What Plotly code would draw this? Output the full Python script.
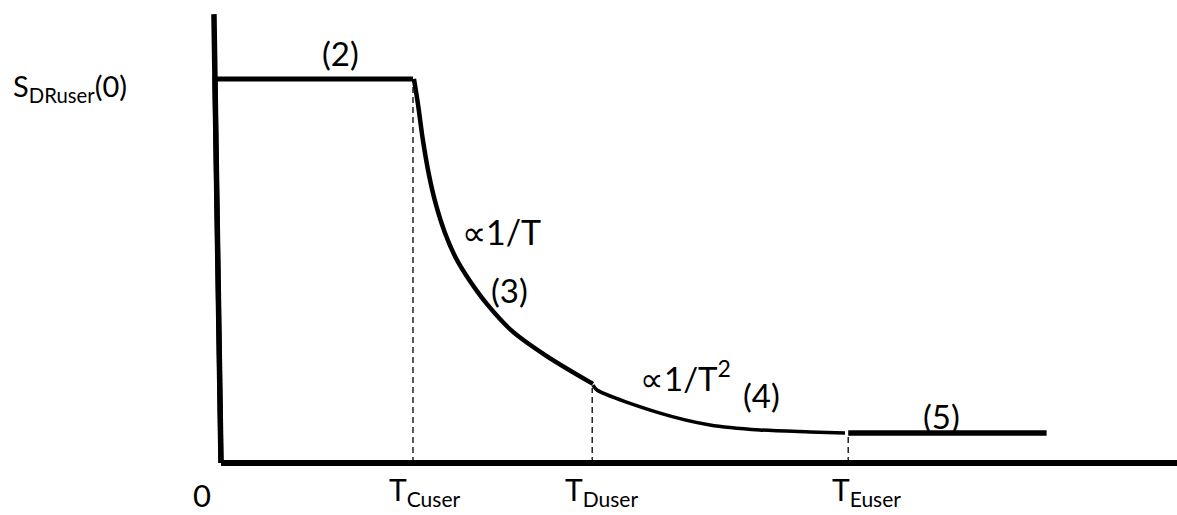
import plotly.graph_objects as go

# Design response spectrum (schematic), period T in s, normalised spectral value
# Corner periods
T_C = 0.60
T_D = 1.16
T_E = 1.96
T_END = 2.58

S_PLATEAU = 1.0
S_FLOOR = 0.078

# (1) rise to the plateau and (2) constant plateau
rise_T = [0.0, -0.019, T_C]
rise_S = [0.0, S_PLATEAU, S_PLATEAU]

# (3) branch proportional to 1/T
seg3_T = [0.603, 0.616, 0.631, 0.650, 0.672, 0.700, 0.734, 0.778, 0.834, 0.909, 1.013, 1.1625]
seg3_S = [1.000, 0.932, 0.841, 0.750, 0.672, 0.599, 0.534, 0.474, 0.411, 0.344, 0.281, 0.206]

# (4) branch proportional to 1/T^2
seg4_T = [1.1625, 1.175, 1.372, 1.528, 1.684, 1.841, 1.95]
seg4_S = [0.203, 0.190, 0.130, 0.099, 0.086, 0.081, 0.078]

# (5) constant tail
seg5_T = [T_E, T_END]
seg5_S = [S_FLOOR, S_FLOOR]

# Vertical guides at the corner periods (top of each guide)
guide_T = [T_C, T_D, T_E]
guide_S = [S_PLATEAU, 0.195, S_FLOOR]

# Axis geometry
AXIS_TOP = (-0.022, 1.169)
AXIS_RIGHT = 2.99

X_RANGE = [-0.6906, 2.9875]
Y_RANGE = [-0.1354, 1.2057]

INK = "black"
FONT = "Lato"

fig = go.Figure()

fig.add_trace(go.Scatter(x=rise_T, y=rise_S, mode="lines", line=dict(color=INK, width=5)))
fig.add_trace(go.Scatter(x=seg3_T, y=seg3_S, mode="lines",
                         line=dict(color=INK, width=4.5, shape="spline", smoothing=1.0)))
fig.add_trace(go.Scatter(x=seg4_T, y=seg4_S, mode="lines",
                         line=dict(color=INK, width=3.5, shape="spline", smoothing=0.8)))
fig.add_trace(go.Scatter(x=seg5_T, y=seg5_S, mode="lines", line=dict(color=INK, width=5.5)))

for t, s in zip(guide_T, guide_S):
    fig.add_trace(go.Scatter(x=[t, t], y=[0, s], mode="lines",
                             line=dict(color=INK, width=1.3, dash="6px,4px")))

# Axes drawn as heavy strokes
fig.add_shape(type="line", x0=0, y0=0, x1=AXIS_TOP[0], y1=AXIS_TOP[1],
              line=dict(color=INK, width=5.5), layer="above")
fig.add_shape(type="line", x0=0, y0=0, x1=AXIS_RIGHT, y1=0,
              line=dict(color=INK, width=6), layer="above")

def label(x, y, text, size=30, xanchor="center", yanchor="middle"):
    fig.add_annotation(x=x, y=y, text=text, showarrow=False, xanchor=xanchor,
                       yanchor=yanchor, font=dict(family=FONT, size=size, color=INK))

label(-0.656, 0.977, "S<sub>DRuser</sub>(0)", size=29, xanchor="left")
label(0.372, 1.068, "(2)", size=33)
label(0.875, 0.602, "\u221d1/T", size=34)
label(0.903, 0.451, "(3)", size=33)
label(1.45, 0.226, "\u221d1/T<sup>2</sup>", size=33)
label(1.6875, 0.177, "(4)", size=33)
label(2.253, 0.122, "(5)", size=33)

label(-0.059, -0.083, "0", size=31)
label(0.519, -0.131, "T<sub>Cuser</sub>", size=30, xanchor="left", yanchor="bottom")
label(1.069, -0.131, "T<sub>Duser</sub>", size=30, xanchor="left", yanchor="bottom")
label(1.903, -0.131, "T<sub>Euser</sub>", size=30, xanchor="left", yanchor="bottom")

fig.update_layout(
    width=1177, height=515,
    margin=dict(l=0, r=0, t=0, b=0),
    paper_bgcolor="white", plot_bgcolor="white",
    showlegend=False,
    xaxis=dict(range=X_RANGE, visible=False, fixedrange=True),
    yaxis=dict(range=Y_RANGE, visible=False, fixedrange=True),
)

fig.write_html("out.html")
